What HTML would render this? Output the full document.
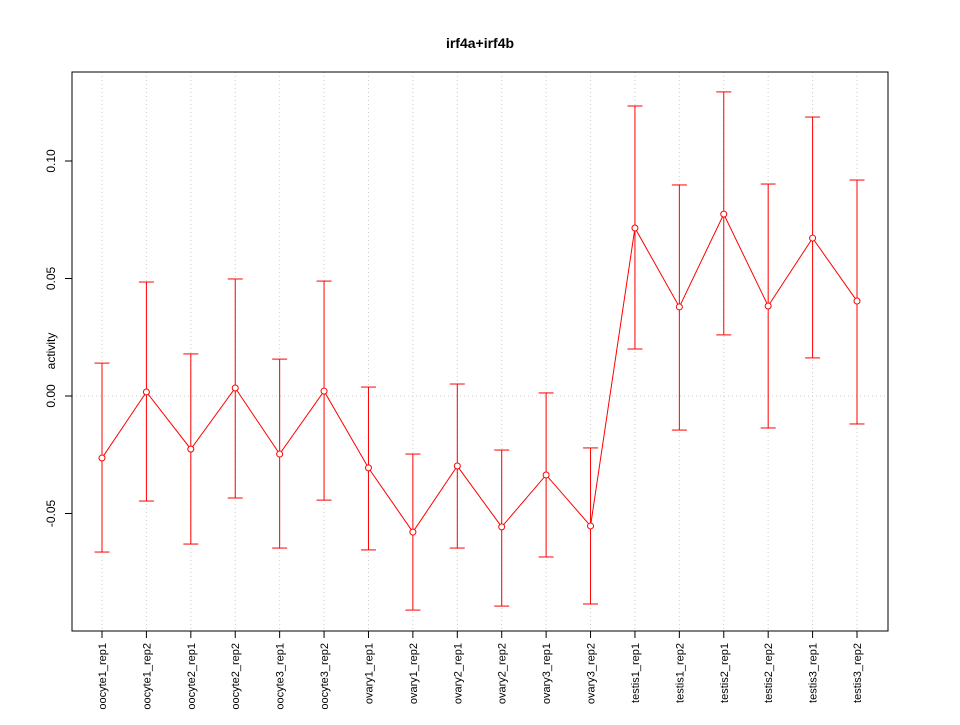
<!DOCTYPE html>
<html><head><meta charset="utf-8"><style>
html,body{margin:0;padding:0;background:#fff;}
svg text{font-family:"Liberation Sans",Arial,sans-serif;}
</style></head>
<body>
<svg id="chart" width="960" height="720" viewBox="0 0 960 720" xmlns="http://www.w3.org/2000/svg">
<text x="480" y="48" text-anchor="middle" font-size="14" font-weight="bold">irf4a+irf4b</text>
<text transform="translate(55,351) rotate(-90)" text-anchor="middle" font-size="12">activity</text>
<g id="grid"></g><g id="marks"></g><g id="axes"></g>
<rect x="72" y="72" width="816" height="559" fill="none" stroke="#000" stroke-width="1"/>
</svg>
<script>
const categories = ["oocyte1_rep1","oocyte1_rep2","oocyte2_rep1","oocyte2_rep2","oocyte3_rep1","oocyte3_rep2","ovary1_rep1","ovary1_rep2","ovary2_rep1","ovary2_rep2","ovary3_rep1","ovary3_rep2","testis1_rep1","testis1_rep2","testis2_rep1","testis2_rep2","testis3_rep1","testis3_rep2"];
const means = [-0.0264,0.0017,-0.0226,0.0034,-0.0247,0.0021,-0.0306,-0.0579,-0.0298,-0.0557,-0.0336,-0.0553,0.0715,0.0379,0.0774,0.0383,0.0672,0.0404];
const upper = [0.0140,0.0485,0.0179,0.0498,0.0157,0.0489,0.0038,-0.0247,0.0051,-0.0230,0.0013,-0.0221,0.1234,0.0898,0.1294,0.0902,0.1187,0.0919];
const lower = [-0.0664,-0.0447,-0.0630,-0.0434,-0.0647,-0.0443,-0.0655,-0.0911,-0.0647,-0.0894,-0.0685,-0.0885,0.0200,-0.0145,0.0260,-0.0136,0.0162,-0.0119];
const yTicks = [-0.05,0.00,0.05,0.10];
const yTickLabels = ["-0.05","0.00","0.05","0.10"];
const yGridValues = [0];

const NS="http://www.w3.org/2000/svg";
function xPos(i){return 102+i*(857-102)/(categories.length-1);}
function yPos(v){return 396-v*2350;}
function mk(parent,tag,attrs){const e=document.createElementNS(NS,tag);for(const k in attrs)e.setAttribute(k,attrs[k]);document.getElementById(parent).appendChild(e);return e;}

categories.forEach((c,i)=>{
  const g=mk("grid","line",{x1:xPos(i),x2:xPos(i),y1:72,y2:631,stroke:"#ccc","stroke-dasharray":"1,3"});
  
  
  const t=mk("axes","line",{x1:xPos(i),x2:xPos(i),y1:631,y2:638,stroke:"#000"});
  
  
  const l=mk("axes","text",{transform:`translate(${xPos(i)+4},643) rotate(-90)`,"text-anchor":"end","font-size":"11"});
  l.textContent=c;
  
  
});
yGridValues.forEach(v=>{
  const g=mk("grid","line",{x1:72,x2:888,y1:yPos(v),y2:yPos(v),stroke:"#ccc","stroke-dasharray":"1,3"});
  
  
});
yTicks.forEach((v,i)=>{
  const t=mk("axes","line",{x1:65,x2:72,y1:yPos(v),y2:yPos(v),stroke:"#000"});
  
  
  const l=mk("axes","text",{transform:`translate(55,${yPos(v)}) rotate(-90)`,"text-anchor":"middle","font-size":"12"});
  l.textContent=yTickLabels[i];
  
  
});
categories.forEach((c,i)=>{
  const x=xPos(i);
  const e=mk("marks","line",{x1:x,x2:x,y1:yPos(upper[i]),y2:yPos(lower[i]),stroke:"red"});
  
  
  const a=mk("marks","line",{x1:x-7.5,x2:x+7.5,y1:yPos(upper[i]),y2:yPos(upper[i]),stroke:"red"});
  
  
  const b=mk("marks","line",{x1:x-7.5,x2:x+7.5,y1:yPos(lower[i]),y2:yPos(lower[i]),stroke:"red"});
  
  
});
const pl=mk("marks","polyline",{points:means.map((v,i)=>xPos(i)+","+yPos(v)).join(" "),fill:"none",stroke:"red"});


means.forEach((v,i)=>{
  const p=mk("marks","circle",{cx:xPos(i),cy:yPos(v),r:3,fill:"#fff",stroke:"red"});
  
  
});
</script>
</body></html>
